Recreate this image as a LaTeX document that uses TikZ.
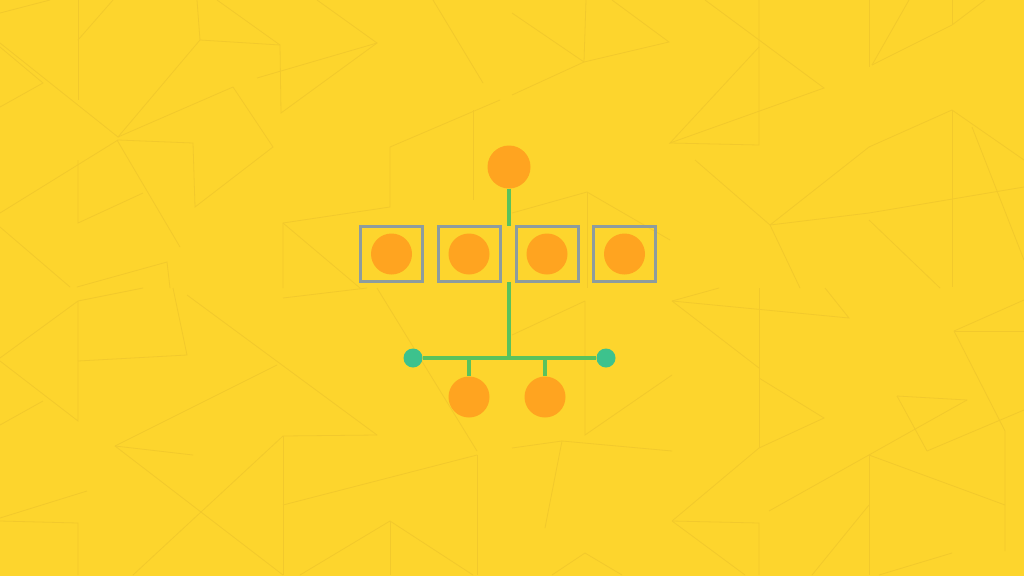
\documentclass[tikz,border=0pt]{standalone}
\usetikzlibrary{backgrounds}
\definecolor{bgyellow}{RGB}{253,213,45}
\definecolor{texline}{RGB}{242,201,44}
\definecolor{dotorange}{RGB}{255,164,32}
\definecolor{boxgray}{RGB}{141,156,158}
\definecolor{linkgreen}{RGB}{90,194,92}
\definecolor{tealdot}{RGB}{61,194,141}
\tikzset{
  texture/.style={draw=texline, line width=0.8pt},
  bigdot/.style={circle, fill=dotorange, inner sep=0pt, minimum size=41pt},
  topdot/.style={circle, fill=dotorange, inner sep=0pt, minimum size=43pt},
  framebox/.style={rectangle, draw=boxgray, line width=3pt, minimum width=62pt, minimum height=55pt, inner sep=0pt},
  enddot/.style={circle, fill=tealdot, inner sep=0pt, minimum size=19pt},
  link/.style={draw=linkgreen, line width=3.4pt}
}
\begin{document}
\begin{tikzpicture}[x=1pt,y=-1pt]
\fill[bgyellow] (0,0) rectangle (1024,576);
\useasboundingbox (0,0) rectangle (1024,576);
% background texture
\begin{scope}[texture]
\draw (0,13) -- (50,0);
\draw (78,0) -- (78,100);
\draw (0,43) -- (118,137);
\draw (0,107) -- (43,83) -- (0,47);
\draw (78,40) -- (113,0);
\draw (118,137) -- (200,40) -- (280,45);
\draw (197,0) -- (200,40);
\draw (217,0) -- (280,45) -- (281,113) -- (377,43) -- (317,0);
\draw (257,78) -- (377,43);
\draw (118,137) -- (233,87) -- (273,147) -- (195,207) -- (193,143) -- (118,140);
\draw (118,140) -- (0,213);
\draw (78,160) -- (78,223) -- (143,193);
\draw (117,140) -- (180,247);
\draw (0,227) -- (70,287);
\draw (77,287) -- (167,262) -- (170,288);
\draw (390,147) -- (390,207) -- (283,223) -- (283,288);
\draw (283,223) -- (360,288);
\draw (390,147) -- (500,100);
\draw (433,0) -- (483,83);
\draw (473,110) -- (473,200);
\draw (512,13) -- (584,62) -- (669,42) -- (612,0);
\draw (586,0) -- (584,62) -- (512,95);
\draw (705,0) -- (824,88) -- (670,143) -- (759,47);
\draw (759,0) -- (759,145) -- (670,143);
\draw (869,0) -- (869,67);
\draw (872,65) -- (952,25) -- (985,0);
\draw (909,0) -- (872,65);
\draw (952,0) -- (952,25);
\draw (952,110) -- (952,287);
\draw (869,147) -- (952,110) -- (1024,160);
\draw (972,127) -- (1024,260);
\draw (770,225) -- (869,147);
\draw (770,225) -- (869,213) -- (1024,187);
\draw (695,160) -- (770,225) -- (800,288);
\draw (512,213) -- (587,192) -- (670,240);
\draw (587,192) -- (587,288);
\draw (869,220) -- (940,288);
\draw (78,301) -- (78,421) -- (0,361);
\draw (0,425) -- (43,401);
\draw (0,358) -- (78,301) -- (143,288);
\draw (173,288) -- (187,355) -- (78,361);
\draw (187,295) -- (377,435);
\draw (115,446) -- (277,365);
\draw (115,446) -- (193,455);
\draw (115,446) -- (283,575);
\draw (283,436) -- (377,435);
\draw (283,436) -- (283,575);
\draw (283,436) -- (133,575);
\draw (0,518) -- (87,491);
\draw (0,521) -- (78,523) -- (78,575);
\draw (283,505) -- (477,455);
\draw (390,521) -- (390,575);
\draw (390,521) -- (473,575);
\draw (390,521) -- (300,575);
\draw (377,288) -- (477,451);
\draw (477,455) -- (477,575);
\draw (283,298) -- (367,288);
\draw (512,335) -- (585,301);
\draw (585,301) -- (585,435) -- (672,375);
\draw (512,448) -- (562,441) -- (672,451);
\draw (562,441) -- (545,528);
\draw (672,301) -- (849,318) -- (825,288);
\draw (672,301) -- (759,368);
\draw (719,288) -- (672,301);
\draw (759,288) -- (759,448);
\draw (759,378) -- (824,418) -- (759,448);
\draw (672,521) -- (759,448);
\draw (672,521) -- (759,523) -- (759,575);
\draw (672,521) -- (745,575);
\draw (769,511) -- (967,400);
\draw (897,396) -- (967,400);
\draw (897,396) -- (927,451);
\draw (869,455) -- (1005,505);
\draw (869,455) -- (869,575);
\draw (954,331) -- (1024,331);
\draw (954,331) -- (1005,431) -- (1005,551);
\draw (954,331) -- (1024,300);
\draw (927,451) -- (1024,410);
\draw (552,575) -- (585,553) -- (622,575);
\draw (879,575) -- (952,553);
\draw (812,575) -- (869,505);
\end{scope}
% main diagram
\node[topdot] (top) at (509,167) {};
\node[framebox] (f1) at (391.5,254) {};
\node[framebox] (f2) at (469,254) {};
\node[framebox] (f3) at (547,254) {};
\node[framebox] (f4) at (624.5,254) {};
\node[bigdot] (c1) at (391.5,254) {};
\node[bigdot] (c2) at (469,254) {};
\node[bigdot] (c3) at (547,254) {};
\node[bigdot] (c4) at (624.5,254) {};
\coordinate (j1) at (509,226);
\coordinate (j2) at (509,282);
\coordinate (hub) at (509,358);
\coordinate (s1) at (469,358);
\coordinate (s2) at (545,358);
\node[enddot] (eL) at (413,358) {};
\node[enddot] (eR) at (606,358) {};
\node[bigdot] (b1) at (469,397) {};
\node[bigdot] (b2) at (545,397) {};
\draw[link] (top) -- (j1);
\draw[link] (j2) -- (hub);
\draw[link] (eL) -- (eR);
\draw[link] (s1) -- (b1);
\draw[link] (s2) -- (b2);
\end{tikzpicture}
\end{document}
